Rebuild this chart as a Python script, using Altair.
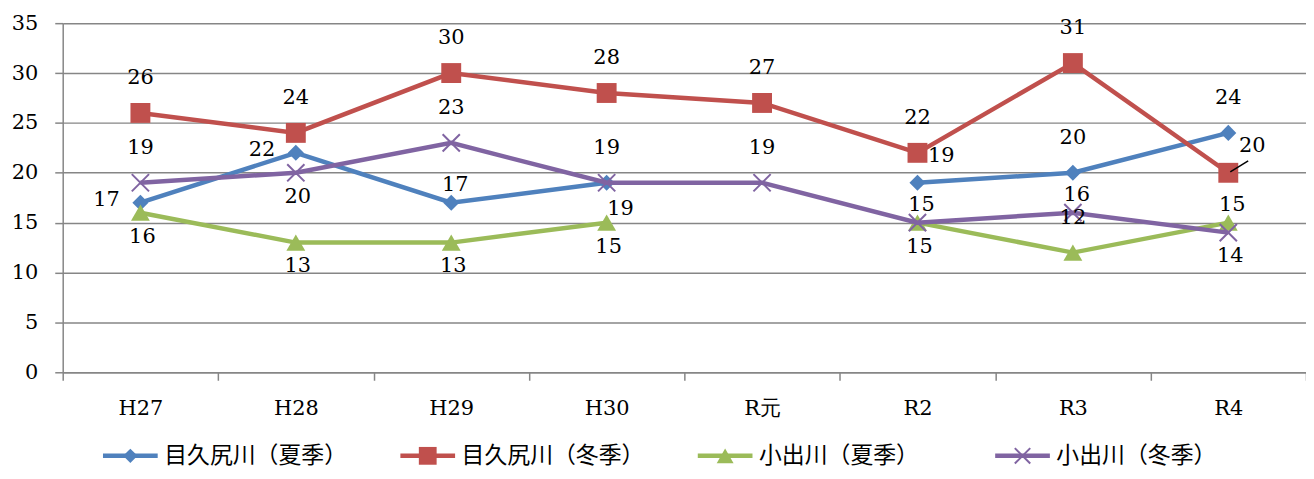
import altair as alt
import pandas as pd

years = ["H27", "H28", "H29", "H30", "R元", "R2", "R3", "R4"]
series_names = ["目久尻川（夏季）", "目久尻川（冬季）", "小出川（夏季）", "小出川（冬季）"]

mekujiri_summer = [17, 22, 17, 19, None, 19, 20, 24]
mekujiri_winter = [26, 24, 30, 28, 27, 22, 31, 20]
koide_summer = [16, 13, 13, 15, None, 15, 12, 15]
koide_winter = [19, 20, 23, 19, 19, 15, 16, 14]

# data-label placement codes (t=above, tn=just above, b=below, l=left, tr=upper right, br=lower right)
mekujiri_summer_lbl = ["l", "l", "tn", "br", "", "tr", "t", "t"]
mekujiri_winter_lbl = ["t", "t", "t", "t", "t", "t", "t", "tr"]
koide_summer_lbl = ["b", "b", "b", "b", "", "b", "t", "tn"]
koide_winter_lbl = ["t", "b", "t", "t", "t", "tn", "tn", "b"]

colors = ["#4F81BD", "#C0504D", "#9BBB59", "#8064A2"]

all_vals = [mekujiri_summer, mekujiri_winter, koide_summer, koide_winter]
all_lbls = [mekujiri_summer_lbl, mekujiri_winter_lbl, koide_summer_lbl, koide_winter_lbl]

rows = []
for si, (name, vals, lbls) in enumerate(zip(series_names, all_vals, all_lbls)):
    seg = 0
    for yi, (yr, v, lb) in enumerate(zip(years, vals, lbls)):
        if v is None:
            seg += 1
            continue
        rows.append({"series": name, "year": yr, "value": v, "place": lb,
                     "seg": f"{si}-{seg}", "order": yi})
df = pd.DataFrame(rows)
legend_df = pd.DataFrame({"series": series_names})

SERIF = "DejaVu Serif"
CJK = "Noto Sans CJK JP"

x_enc = alt.X("year:N", sort=years, bandPosition=0.5,
              scale=alt.Scale(type="band", domain=years, paddingInner=0, paddingOuter=0),
              axis=alt.Axis(title=None, tickBand="extent", labelAngle=0, grid=False,
                            tickSize=8, tickColor="#868686", tickWidth=1.5,
                            domainColor="#868686", domainWidth=1.5,
                            labelFont=SERIF, labelFontSize=21, labelColor="black",
                            labelPadding=17))
y_enc = alt.Y("value:Q",
              scale=alt.Scale(domain=[0, 35], nice=False, zero=True),
              axis=alt.Axis(title=None, values=list(range(0, 36, 5)), grid=True,
                            gridColor="#868686", gridWidth=1.5,
                            tickSize=8, tickColor="#868686", tickWidth=1.5,
                            domainColor="#868686", domainWidth=1.5,
                            labelFont=SERIF, labelFontSize=21, labelColor="black",
                            labelPadding=17))
color_enc = alt.Color("series:N", scale=alt.Scale(domain=series_names, range=colors), legend=None)

base = alt.Chart(df)

shapes = {
    series_names[0]: dict(shape="diamond", size=260, filled=True),
    series_names[1]: dict(shape="square", size=400, filled=True),
    series_names[2]: dict(shape="triangle-up", size=360, filled=True),
    series_names[3]: dict(shape="M-1,-1L1,1M-1,1L1,-1", size=300, filled=False, strokeWidth=2),
}

layers = []
for name, col in zip(series_names, colors):
    sub = base.transform_filter(alt.datum.series == name)
    layers.append(sub.mark_line(strokeWidth=4.5, color=col).encode(
        x=x_enc, y=y_enc, detail="seg:N", order="order:Q"))
    sp = shapes[name]
    layers.append(sub.mark_point(opacity=1, color=col, **sp).encode(x=x_enc, y=y_enc))

offsets = {"t": (0, -35), "tn": (4, -18), "b": (2, 24), "l": (-34, -3),
           "tr": (24, -27), "br": (14, 26)}
for code, (dx, dy) in offsets.items():
    layers.append(base.transform_filter(alt.datum.place == code).mark_text(
        dx=dx, dy=dy, font=SERIF, fontSize=21, color="black").encode(
        x=x_enc, y=y_enc, text=alt.Text("value:Q", format="d")))

# leader line for the label moved away from its point (冬季 series, upper-right label)
layers.append(base.transform_filter(
    (alt.datum.place == "tr") & (alt.datum.series == series_names[1])).mark_rule(
    color="black", strokeWidth=1.5, xOffset=2, yOffset=-1, x2Offset=20, y2Offset=-12).encode(
    x=x_enc, y=y_enc, x2="year:N", y2="value:Q"))

main = alt.layer(*layers)

# legend built from series names
lx = alt.X("series:N", scale=alt.Scale(type="point", domain=series_names,
                                       range=[68, 965], padding=0),
           axis=None)
leg = alt.Chart(legend_df)
LEG_Y = 435
leg_layers = [leg.mark_point(shape="M-1,0L1,0", size=3025, strokeWidth=4.5, filled=False, opacity=1).encode(
    x=lx, y=alt.value(LEG_Y), color=color_enc)]
for name, col in zip(series_names, colors):
    sp = dict(shapes[name])
    sp["size"] = sp["size"] * 0.8
    leg_layers.append(leg.transform_filter(alt.datum.series == name).mark_point(opacity=1, color=col, **sp).encode(
        x=lx, y=alt.value(LEG_Y)))
leg_layers.append(leg.mark_text(align="left", dx=34, font=CJK, fontSize=23, color="black").encode(
    x=lx, y=alt.value(LEG_Y), text="series:N"))
legend = alt.layer(*leg_layers)

chart = alt.layer(main, legend).resolve_scale(x="independent").properties(
    width=1250, height=351,
    autosize=alt.AutoSizeParams(type="none"),
    padding={"left": 55, "top": 14, "right": 0, "bottom": 98},
).configure_view(stroke=None)

chart.save("out.html", embed_options={"renderer": "svg", "actions": False})
